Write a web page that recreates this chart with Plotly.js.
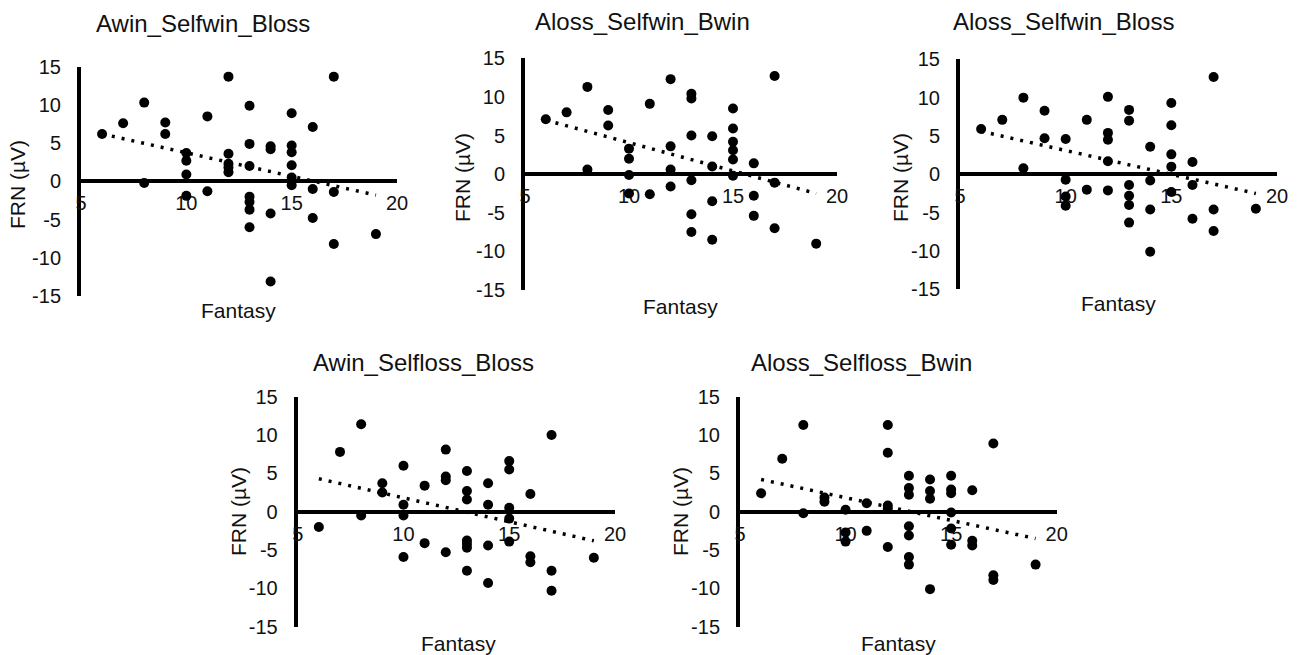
<!DOCTYPE html>
<html>
<head>
<meta charset="utf-8">
<script src="https://cdn.plot.ly/plotly-3.0.1.min.js"></script>
<style>
html,body{margin:0;padding:0;background:#fff;}
#chart{width:1298px;height:655px;}
</style>
</head>
<body>
<div id="chart"></div>
<script>
// ---- Data ----
var panelTitles = ["Awin_Selfwin_Bloss", "Aloss_Selfwin_Bwin", "Aloss_Selfwin_Bloss", "Awin_Selfloss_Bloss", "Aloss_Selfloss_Bwin"];
var xTitle = "Fantasy";
var yTitle = "FRN (\u00b5V)";

var xTickVals = [5, 10, 15, 20];
var xTickText = ["5", "10", "15", "20"];
var yTickVals = [-15, -10, -5, 0, 5, 10, 15];
var yTickText = ["-15", "-10", "-5", "0", "5", "10", "15"];

var fantasy1 = [6, 7, 8, 8, 9, 9, 10, 10, 10, 10, 11, 11, 12, 12, 12, 12, 12, 13, 13, 13, 13, 13, 13, 13, 14, 14, 14, 14, 15, 15, 15, 15, 15, 15, 16, 16, 16, 17, 17, 17, 19];
var frn1     = [6.2, 7.6, 10.3, -0.2, 7.7, 6.2, 3.7, 2.7, 0.9, -1.9, 8.5, -1.3, 13.7, 3.6, 2.3, 1.8, 1.2, 9.9, 4.9, 2.0, -2.0, -2.7, -3.7, -6.0, 4.6, 4.2, -4.2, -13.1, 8.9, 4.7, 3.8, 2.1, 0.5, -0.5, 7.1, -1.0, -4.8, 13.7, -1.4, -8.2, -6.9];

var fantasy2 = [6, 7, 8, 8, 9, 9, 10, 10, 10, 10, 11, 11, 12, 12, 12, 12, 13, 13, 13, 13, 13, 13, 14, 14, 14, 14, 15, 15, 15, 15, 15, 15, 16, 16, 16, 17, 17, 17, 19];
var frn2     = [7.1, 8.0, 11.3, 0.6, 8.3, 6.3, 3.3, 2.0, -0.1, -2.5, 9.1, -2.6, 12.3, 3.6, 0.6, -1.6, 10.4, 9.8, 5.0, -0.8, -5.2, -7.5, 4.9, 1.0, -3.5, -8.5, 8.5, 5.9, 4.2, 3.1, 1.9, -0.2, 1.4, -2.8, -5.4, 12.7, -1.1, -7.0, -9.0];

var fantasy3 = [6, 7, 8, 8, 9, 9, 10, 10, 10, 10, 11, 11, 12, 12, 12, 12, 12, 13, 13, 13, 13, 13, 13, 14, 14, 14, 14, 15, 15, 15, 15, 15, 16, 16, 16, 17, 17, 17, 19];
var frn3     = [5.9, 7.1, 10.0, 0.8, 8.3, 4.7, 4.6, -0.7, -2.9, -4.1, 7.1, -2.0, 10.1, 5.4, 4.5, 1.7, -2.1, 8.4, 7.0, -1.4, -2.8, -4.0, -6.3, 3.6, -0.8, -4.6, -10.1, 9.3, 6.4, 2.6, 1.0, -2.3, 1.6, -1.4, -5.8, 12.7, -4.6, -7.4, -4.5];

var fantasy4 = [6, 7, 8, 8, 9, 9, 10, 10, 10, 10, 11, 11, 12, 12, 12, 12, 13, 13, 13, 13, 13, 13, 13, 14, 14, 14, 14, 15, 15, 15, 15, 15, 16, 16, 16, 17, 17, 17, 19];
var frn4     = [-2.0, 7.8, 11.4, -0.5, 3.7, 2.5, 6.0, 0.9, -0.5, -5.9, 3.4, -4.1, 8.1, 4.6, 4.1, -5.3, 5.3, 2.7, 1.6, -3.75, -4.2, -4.7, -7.7, 3.7, 0.9, -4.4, -9.3, 6.6, 5.5, 0.5, -0.9, -3.9, 2.3, -5.8, -6.6, 10.0, -7.7, -10.3, -6.0];

var fantasy5 = [6, 7, 8, 8, 9, 9, 10, 10, 10, 11, 11, 12, 12, 12, 12, 12, 13, 13, 13, 13, 13, 13, 13, 14, 14, 14, 14, 15, 15, 15, 15, 15, 15, 16, 16, 16, 17, 17, 17, 19];
var frn5     = [2.4, 6.9, 11.3, -0.2, 1.85, 1.3, 0.25, -2.7, -3.9, 1.1, -2.5, 11.3, 7.7, 0.8, 0.4, -4.6, 4.7, 3.1, 2.2, -1.9, -3.1, -5.9, -6.9, 4.2, 2.7, 1.7, -10.1, 4.7, 2.9, 2.4, -0.1, -2.2, -4.3, 2.8, -3.8, -4.4, 8.9, -8.3, -8.9, -6.9];

// trendline end points as drawn in the picture
var trendX  = [6, 19];
var trend1  = [6.2, -1.8];
var trend2  = [7.0, -2.5];
var trend3  = [5.6, -2.5];
var trend4  = [4.3, -3.8];
var trend5  = [4.2, -3.5];

var xRange = [5, 20];
var yRange = [-15, 15];

// ---- Layout geometry (pixels in the 1298x655 picture) ----
var W = 1298, H = 655;
var panels = [
  {fx: fantasy1, fy: frn1, t: trend1, px: [81, 397],    py: [66.7, 296],   title: [203, 23],  xt: [238, 310], yt: [17, 185]},
  {fx: fantasy2, fy: frn2, t: trend2, px: [525, 837],   py: [58.3, 290],   title: [642, 22],  xt: [680, 306], yt: [462, 178]},
  {fx: fantasy3, fy: frn3, t: trend3, px: [960, 1277],  py: [59.3, 289.3], title: [1063, 22], xt: [1118, 304], yt: [900, 178]},
  {fx: fantasy4, fy: frn4, t: trend4, px: [297.7, 615], py: [396.7, 626.7], title: [423, 362], xt: [458, 643], yt: [238, 512]},
  {fx: fantasy5, fy: frn5, t: trend5, px: [740, 1056.7], py: [396.7, 626.7], title: [861, 362], xt: [898, 643], yt: [680, 512]}
];

var FONT = "Liberation Sans, Arial, sans-serif";
var traces = [];
var layout = {
  width: W, height: H,
  margin: {l: 0, r: 0, t: 0, b: 0},
  paper_bgcolor: "#ffffff",
  plot_bgcolor: "rgba(0,0,0,0)",
  showlegend: false,
  font: {family: FONT, color: "#111"},
  annotations: []
};

panels.forEach(function (p, i) {
  var n = i + 1;
  var xa = "x" + (n === 1 ? "" : n);
  var ya = "y" + (n === 1 ? "" : n);
  var xd = [p.px[0] / W, p.px[1] / W];
  var yd = [1 - p.py[1] / H, 1 - p.py[0] / H];

  traces.push({
    type: "scatter", mode: "lines", x: trendX, y: p.t, xaxis: xa, yaxis: ya,
    line: {color: "#000", width: 3.5, dash: "3px,7px"}, hoverinfo: "skip"
  });
  traces.push({
    type: "scatter", mode: "markers", x: p.fx, y: p.fy, xaxis: xa, yaxis: ya,
    marker: {color: "#000", size: 10, line: {width: 0}}, cliponaxis: false
  });

  layout["xaxis" + (n === 1 ? "" : n)] = {
    domain: xd, range: xRange, anchor: "free", position: (yd[0] + yd[1]) / 2,
    tickmode: "array", tickvals: xTickVals, ticktext: xTickText,
    ticks: "", showgrid: false, zeroline: false,
    showline: true, linecolor: "#000", linewidth: 4, layer: "below traces",
    tickfont: {family: FONT, size: 20, color: "#111"}, ticklabelstandoff: 3,
    fixedrange: true
  };
  layout["yaxis" + (n === 1 ? "" : n)] = {
    domain: yd, range: yRange, anchor: xa,
    tickmode: "array", tickvals: yTickVals, ticktext: yTickText,
    ticks: "", showgrid: false, zeroline: false,
    showline: true, linecolor: "#000", linewidth: 4, layer: "below traces",
    tickfont: {family: FONT, size: 20, color: "#111"}, ticklabelstandoff: 12,
    fixedrange: true
  };

  layout.annotations.push({
    xref: "paper", yref: "paper", x: p.title[0] / W, y: 1 - p.title[1] / H,
    xanchor: "center", yanchor: "middle", showarrow: false,
    text: panelTitles[i], font: {family: FONT, size: 24, color: "#111"}
  });
  layout.annotations.push({
    xref: "paper", yref: "paper", x: p.xt[0] / W, y: 1 - p.xt[1] / H,
    xanchor: "center", yanchor: "middle", showarrow: false,
    text: xTitle, font: {family: FONT, size: 21, color: "#111"}
  });
  layout.annotations.push({
    xref: "paper", yref: "paper", x: p.yt[0] / W, y: 1 - p.yt[1] / H,
    xanchor: "center", yanchor: "middle", showarrow: false, textangle: -90,
    text: yTitle, font: {family: FONT, size: 21, color: "#111"}
  });
});

Plotly.newPlot("chart", traces, layout, {staticPlot: true, displayModeBar: false});
</script>
</body>
</html>
